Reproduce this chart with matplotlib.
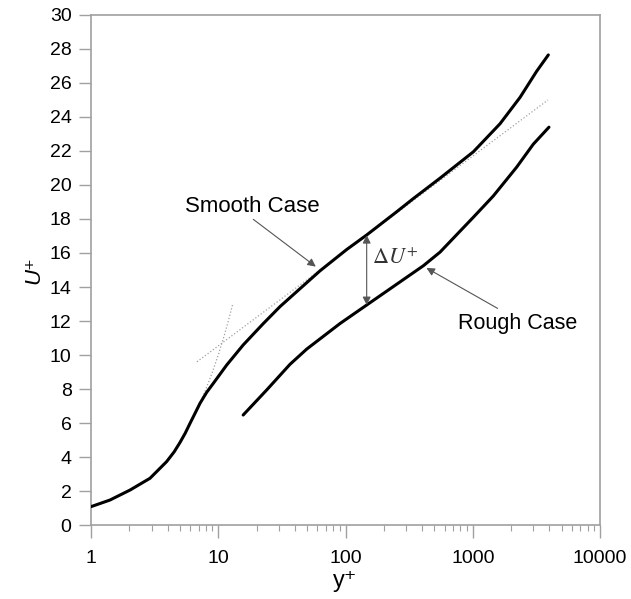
import matplotlib
matplotlib.use("Agg")
import matplotlib.pyplot as plt

plt.rcParams["font.family"] = ["Liberation Sans", "DejaVu Sans"]
plt.rcParams["mathtext.fontset"] = "stix"

# Smooth wall profile (y+, U+)
smooth_yp = [1, 1.41, 2.03, 2.91, 3.93, 4.5, 5.0, 5.5, 6.0, 6.6, 7.19, 8.1, 9.14, 11.65,
             15.7, 22.6, 30.6, 43.9, 63, 102, 146.7, 250, 341, 553, 1010, 1637, 2351, 3184, 3925]
smooth_u = [1.08, 1.47, 2.06, 2.75, 3.73, 4.3, 4.85, 5.4, 5.98, 6.6, 7.16, 7.8, 8.33, 9.41,
            10.59, 11.85, 12.85, 13.9, 14.95, 16.2, 17.06, 18.4, 19.2, 20.4, 21.95, 23.6, 25.15, 26.7, 27.65]

# Rough wall profile
rough_yp = [15.7, 24.0, 36.6, 49.6, 90.5, 146.7, 409, 553, 1010, 1449, 2213, 2990, 3970]
rough_u = [6.47, 7.94, 9.45, 10.35, 11.85, 12.94, 15.25, 16.05, 18.1, 19.35, 21.05, 22.4, 23.4]

# Reference lines (viscous sublayer, log law)
sub_yp = [7.5, 8, 9, 10, 11, 12, 13]
sub_u = [7.5, 8, 9, 10, 11, 12, 13]
log_yp = [6.8, 3900]
log_u = [9.6, 25.0]

# Annotation anchors
smooth_pt = (60.8, 15.1)
rough_pt = (414, 15.2)
du_x = 146.7
du_lo, du_hi = 12.94, 17.05

fig = plt.figure(figsize=(6.31, 5.99), dpi=100)
ax = fig.add_axes([0.1442, 0.1235, 0.8067, 0.8515])

ax.plot(sub_yp, sub_u, color="#a0a0a0", ls=":", lw=0.9, zorder=1)
ax.plot(log_yp, log_u, color="#a0a0a0", ls=":", lw=0.9, zorder=1)
ax.plot(smooth_yp, smooth_u, color="black", lw=2.2, zorder=3,
        solid_joinstyle="round", solid_capstyle="round")
ax.plot(rough_yp, rough_u, color="black", lw=2.2, zorder=3,
        solid_joinstyle="round", solid_capstyle="round")

ax.set_xscale("log")
ax.set_xlim(1, 10000)
ax.set_ylim(0, 30)
ax.set_yticks(range(0, 31, 2))
ax.set_xticks([1, 10, 100, 1000, 10000])
ax.set_xticklabels(["1", "10", "100", "1000", "10000"])

for s in ax.spines.values():
    s.set_color("#a0a0a0")
    s.set_linewidth(1.2)

ax.tick_params(axis="both", which="major", direction="out", length=9,
               color="#a0a0a0", width=1, labelsize=14, pad=5)
ax.tick_params(axis="x", which="minor", direction="out", length=4,
               color="#a0a0a0", width=0.8)
ax.tick_params(axis="x", which="major", pad=9)

ax.set_xlabel("y⁺", fontsize=17, labelpad=2)
ax.set_ylabel("U⁺", fontsize=16, style="italic", labelpad=4)

arrow_kw = dict(arrowstyle="-|>", color="#555555", lw=0.8, mutation_scale=12)
ax.annotate("Smooth Case", xy=smooth_pt, xytext=(5.48, 18.76), fontsize=16,
            ha="left", va="center", arrowprops=dict(arrow_kw, shrinkA=0,
            relpos=(0.48, 0.0)))
ax.annotate("Rough Case", xy=rough_pt, xytext=(2268, 11.88), fontsize=15.5,
            ha="center", va="center", arrowprops=dict(arrow_kw, shrinkA=2,
            relpos=(0.39, 1.0)))
ax.annotate("", xy=(du_x, du_hi), xytext=(du_x, du_lo),
            arrowprops=dict(arrowstyle="<|-|>", color="#555555", lw=0.8,
                            mutation_scale=12, shrinkA=0, shrinkB=0))
ax.text(du_x * 1.1, 15.7, r"$\Delta U^{+}$", fontsize=16, color="#333333",
        ha="left", va="center")

fig.savefig("out.png", dpi=100)
